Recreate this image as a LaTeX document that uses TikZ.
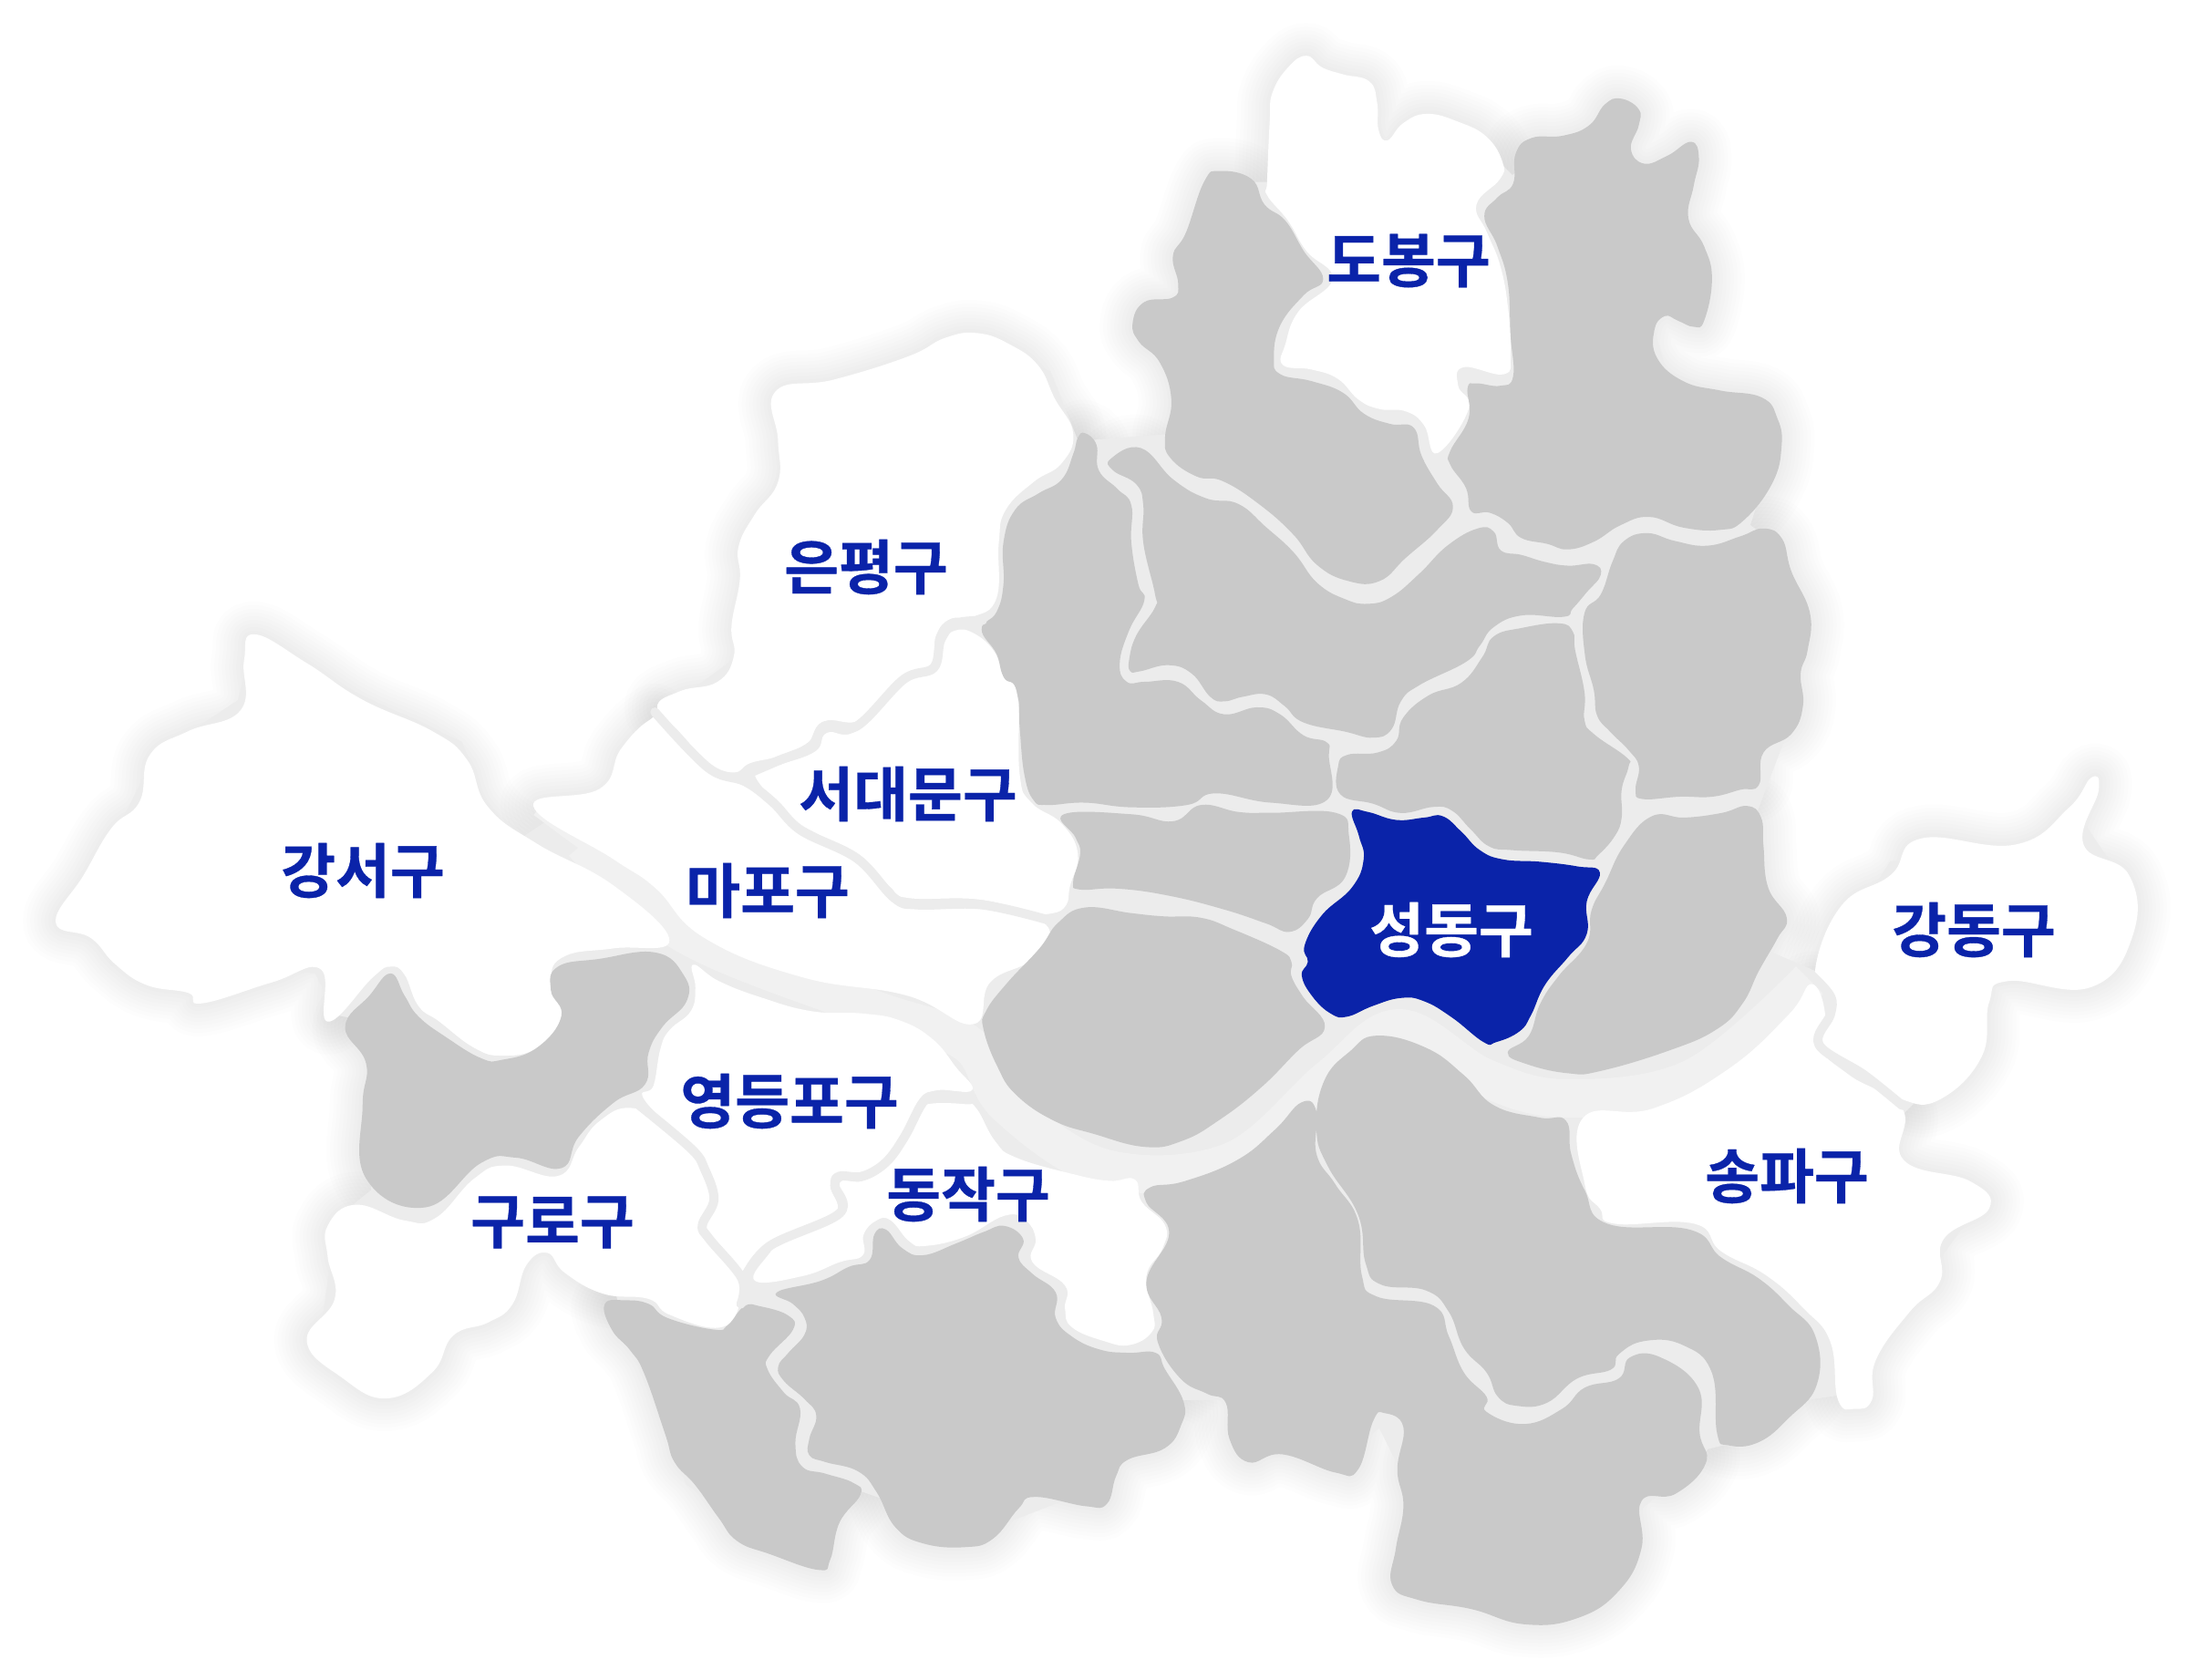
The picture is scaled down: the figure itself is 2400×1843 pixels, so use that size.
\documentclass[tikz,border=0pt]{standalone}
\usepackage{fontspec}
\newfontfamily\krfont[BoldFont={Noto Sans CJK KR Bold},BoldFeatures={FakeBold=0.5}]{Noto Sans CJK KR}
\pgfdeclarelayer{shadowlayer}
\pgfdeclarelayer{riverlayer}
\pgfsetlayers{shadowlayer,riverlayer,main}
\definecolor{landgray}{HTML}{C9C9C9}
\definecolor{gapgray}{HTML}{ECECEC}
\definecolor{rivergray}{HTML}{F1F1F1}
\definecolor{gublue}{HTML}{0A23A9}
\tikzset{
    cropNorth/.style={shift={(1100,0)},x=0.00574cm,y=-0.0051cm},
    cropWest/.style={shift={(0,650)},x=0.00765cm,y=-0.00574cm},
    cropEast/.style={shift={(1100,800)},x=0.00829cm,y=-0.00665cm},
    cropMid/.style={shift={(680,340)},x=0.0051cm,y=-0.0051cm},
    cropSouth/.style={shift={(620,1043)},x=0.0051cm,y=-0.0051cm},
    cropCenter/.style={shift={(1200,540)},x=0.0051cm,y=-0.0051cm},
    cropWhole/.style={x=0.01535cm,y=-0.01535cm},
    guname/.style={font=\krfont\bfseries\fontsize{18.5}{19}\selectfont,text=gublue,inner sep=0pt},
    outline/.style={smooth cycle,tension=0.75},
    gapline/.style={gapgray,line width=0.1cm,line cap=round,line join=round}
}
% #1 crop, #2 fill colour, #3 outline points
\newcommand{\district}[3]{%
    \begin{pgfonlayer}{shadowlayer}
        \begin{scope}[#1]
            \foreach \w in {0.08,0.16,0.24,0.32,0.4,0.48,0.56,0.64,0.72}
                \draw[black,draw opacity=0.009,line width=\w cm,line join=round] plot[outline] coordinates {#3};
        \end{scope}
    \end{pgfonlayer}
    \begin{scope}[#1]
        \fill[#2] plot[outline] coordinates {#3};
    \end{scope}
}
\begin{document}
\begin{tikzpicture}[x=0.01cm,y=-0.01cm]
    \useasboundingbox (0,0) rectangle (2400,1843);
    \begin{pgfonlayer}{shadowlayer}
        \fill[white] (0,0) rectangle (2400,1843);
    \end{pgfonlayer}

    %% land under the districts, shows in the gaps, then the river
    \begin{pgfonlayer}{riverlayer}
        \begin{scope}[cropWhole]
            \fill[gapgray] (938,55) -- (975,65) -- (990,105) -- (1000,100) -- (1070,115) -- (1080,125) -- (1110,105) -- (1160,90) -- (1165,115) -- (1195,125) -- (1205,210) -- (1180,230) -- (1190,265) -- (1260,290) -- (1270,315) -- (1250,375) -- (1270,390) -- (1285,425) -- (1285,500) -- (1255,580) -- (1265,680) -- (1300,695) -- (1350,615) -- (1450,615) -- (1490,590) -- (1520,635) -- (1505,695) -- (1420,705) -- (1410,750) -- (1380,775) -- (1355,800) -- (1360,850) -- (1410,865) -- (1385,900) -- (1340,960) -- (1325,995) -- (1290,1000) -- (1240,1030) -- (1220,1035) -- (1170,1080) -- (1160,1120) -- (1090,1150) -- (1005,1125) -- (1005,1060) -- (985,1020) -- (960,1040) -- (890,1040) -- (880,1000) -- (835,1000) -- (790,1060) -- (700,1095) -- (600,1060) -- (590,1110) -- (530,1090) -- (490,1060) -- (450,960) -- (440,925) -- (390,885) -- (330,930) -- (300,960) -- (280,995) -- (228,960) -- (240,870) -- (265,850) -- (265,730) -- (240,725) -- (225,695) -- (80,690) -- (60,640) -- (110,540) -- (170,500) -- (180,460) -- (330,530) -- (345,570) -- (370,600) -- (400,580) -- (440,560) -- (470,510) -- (525,470) -- (530,400) -- (555,340) -- (565,285) -- (690,245) -- (750,265) -- (770,315) -- (835,310) -- (835,270) -- (820,230) -- (845,210) -- (848,180) -- (880,130) -- (925,130) -- (925,80) -- cycle;
        \end{scope}
        \draw[rivergray,line width=0.42cm,line join=round] plot[smooth,tension=0.6] coordinates {(640,925) (752,1025) (952,1105) (1060,1144) (1105,1213) (1213,1282) (1351,1274) (1459,1182) (1535,1128) (1628,1182) (1720,1205) (1858,1182) (1985,1075)};
        \draw[rivergray,line width=0.15cm] plot[smooth,tension=0.6] coordinates {(590,888) (640,925) (700,965)};
    \end{pgfonlayer}

    %% north
    \district{cropNorth}{white}{(580,120) (610,145) (650,160) (700,175) (715,220) (718,280) (735,302) (765,265) (810,245) (870,262) (925,295) (955,350) (950,385) (905,440) (925,500) (950,570) (965,660) (970,760) (958,805) (880,790) (870,830) (890,880) (830,975) (805,915) (770,885) (720,880) (680,860) (640,815) (590,795) (535,785) (540,740) (565,670) (630,600) (580,540) (545,475) (505,420) (505,390) (510,260) (515,200) (545,145)}
    \district{cropNorth}{landgray}{(415,368) (475,385) (500,440) (540,475) (575,540) (612,600) (575,635) (530,700) (518,770) (530,805) (590,820) (650,845) (690,890) (740,912) (785,920) (800,980) (830,1040) (860,1090) (830,1140) (770,1200) (720,1250) (660,1250) (600,1215) (555,1150) (490,1085) (420,1035) (370,1025) (320,985) (310,940) (322,860) (300,780) (260,735) (248,695) (270,650) (325,640) (335,610) (325,550) (350,500) (385,390)}
    \district{cropNorth}{landgray}{(1180,212) (1215,235) (1215,270) (1200,320) (1225,352) (1270,335) (1315,305) (1330,340) (1320,400) (1310,470) (1340,530) (1355,600) (1340,690) (1320,703) (1290,690) (1265,680) (1245,710) (1250,770) (1300,820) (1370,840) (1450,855) (1480,900) (1488,960) (1470,1040) (1415,1120) (1370,1140) (1300,1135) (1235,1112) (1180,1130) (1130,1165) (1080,1182) (1040,1170) (990,1157) (965,1125) (930,1103) (895,1100) (885,1050) (855,1000) (855,970) (890,900) (888,835) (905,825) (950,830) (975,810) (970,720) (965,610) (945,530) (920,465) (945,425) (975,395) (980,330) (1010,297) (1070,292) (1120,270) (1150,225)}

    %% center
    \district{cropCenter}{landgray}{(36,-72) (101,-95) (171,-27) (241,13) (310,25) (370,75) (430,130) (480,195) (540,230) (590,240) (640,225) (700,175) (760,115) (825,78) (860,85) (875,125) (920,135) (970,150) (1020,158) (1075,155) (1090,178) (1060,215) (1030,250) (1010,268) (920,265) (860,290) (830,330) (800,365) (700,415) (660,450) (640,510) (600,528) (540,515) (450,495) (410,460) (370,435) (320,440) (280,450) (250,440) (210,390) (160,372) (100,385) (78,385) (76,358) (91,308) (131,248) (131,218) (106,108) (106,28) (91,-17) (41,-47)}
    \district{cropCenter}{landgray}{(1190,88) (1250,105) (1320,115) (1390,95) (1440,78) (1480,100) (1500,170) (1540,260) (1535,340) (1520,390) (1525,460) (1500,520) (1440,560) (1430,630) (1390,640) (1330,655) (1260,655) (1180,660) (1165,640) (1172,590) (1150,555) (1110,515) (1082,480) (1075,425) (1056,350) (1055,260) (1090,220) (1115,150) (1140,105)}
    \district{cropCenter}{landgray}{(1000,282) (1030,300) (1035,340) (1055,430) (1055,490) (1075,520) (1145,570) (1150,590) (1135,640) (1135,700) (1120,740) (1085,780) (1065,790) (1000,775) (900,770) (850,762) (810,725) (770,685) (730,677) (660,690) (600,670) (530,650) (525,590) (545,565) (610,560) (650,535) (665,485) (720,437) (790,410) (835,355) (860,310) (920,292)}
    \district{cropCenter}{gublue}{(555,687) (590,688) (650,705) (710,700) (750,697) (790,730) (830,770) (880,790) (960,795) (1040,805) (1088,818) (1060,880) (1060,950) (1020,1000) (970,1060) (940,1125) (915,1160) (865,1183) (838,1183) (770,1130) (710,1095) (660,1088) (600,1105) (545,1128) (510,1122) (470,1085) (447,1040) (460,1010) (453,975) (490,910) (555,850) (580,790) (570,740)}
    \district{cropCenter}{landgray}{(1200,697) (1270,700) (1350,690) (1405,675) (1435,700) (1440,760) (1450,850) (1490,915) (1470,960) (1430,1030) (1395,1100) (1340,1155) (1240,1200) (1090,1245) (1020,1250) (930,1230) (890,1205) (935,1170) (960,1100) (1000,1040) (1060,970) (1070,900) (1100,840) (1140,760)}

    %% middle west of the center
    \district{cropMid}{landgray}{(1000,265) (1025,290) (1030,345) (1070,385) (1100,420) (1100,500) (1115,590) (1128,625) (1095,690) (1075,760) (1090,800) (1130,800) (1200,800) (1250,840) (1300,870) (1370,855) (1420,870) (1470,915) (1520,930) (1525,960) (1520,1055) (1400,1060) (1280,1040) (1220,1065) (1100,1070) (1000,1060) (920,1065) (890,1055) (870,1000) (860,900) (855,830) (825,790) (810,740) (778,687) (810,650) (825,590) (825,500) (850,430) (900,395) (950,365) (975,310) (985,275)}
    \district{cropMid}{landgray}{(955,1085) (1100,1085) (1190,1100) (1250,1065) (1330,1080) (1400,1082) (1540,1082) (1568,1130) (1560,1220) (1500,1265) (1480,1310) (1440,1338) (1390,1320) (1300,1290) (1180,1260) (1070,1245) (990,1247) (975,1230) (990,1170) (980,1135)}
    \district{cropMid}{white}{(335,175) (460,150) (620,100) (700,60) (770,50) (840,75) (900,120) (935,190) (975,265) (950,330) (890,370) (830,430) (815,500) (810,620) (760,660) (710,665) (680,700) (670,760) (620,785) (560,840) (510,885) (440,885) (405,930) (340,960) (280,975) (245,995) (190,975) (130,910) (80,855) (130,820) (210,800) (245,745) (240,680) (258,580) (255,510) (290,440) (340,370) (340,280)}
    \district{cropMid}{white}{(720,690) (760,695) (805,735) (825,790) (855,830) (860,1000) (885,1060) (950,1105) (985,1170) (968,1240) (960,1280) (930,1298) (880,1295) (770,1268) (620,1265) (580,1240) (510,1170) (430,1130) (370,1090) (290,1000) (340,980) (420,950) (445,910) (510,905) (610,805) (680,770) (695,715)}

    %% west
    \district{cropWest}{white}{(930,245) (950,250) (1010,330) (1060,360) (1120,410) (1170,465) (1250,530) (1300,590) (1400,590) (1500,635) (1480,700) (1420,745) (1395,825) (1300,770) (1150,735) (1010,660) (940,565) (880,510) (765,408) (860,375) (890,300)}
    \district{cropWest}{white}{(365,80) (440,135) (520,205) (620,265) (670,320) (700,410) (770,480) (880,560) (960,665) (880,680) (810,695) (790,740) (805,810) (770,870) (720,885) (680,870) (630,820) (600,790) (580,730) (560,715) (535,735) (470,820) (460,720) (390,745) (290,785) (270,765) (210,750) (165,710) (130,660) (80,630) (120,540) (160,450) (200,400) (215,310) (270,265) (345,225) (350,130)}
    \district{cropWest}{landgray}{(560,728) (580,770) (600,810) (640,850) (690,890) (720,893) (770,870) (805,810) (790,760) (800,715) (860,700) (940,688) (980,730) (985,780) (950,830) (930,880) (925,940) (880,975) (830,1040) (805,1100) (740,1080) (690,1090) (610,1175) (525,1120) (520,980) (525,900) (495,830) (530,770)}
    \district{cropWest}{white}{(905,985) (960,1020) (1000,1080) (1020,1160) (1010,1220) (1060,1310) (1060,1365) (1030,1405) (960,1380) (930,1350) (865,1340) (810,1300) (785,1262) (755,1285) (735,1360) (700,1395) (650,1420) (620,1490) (555,1540) (490,1500) (440,1430) (480,1350) (470,1270) (470,1210) (510,1170) (580,1200) (625,1195) (680,1120) (725,1095) (800,1115) (830,1060) (860,1010)}

    %% south of the river
    \district{cropSouth}{landgray}{(1118,-93) (1217,-81) (1287,-74) (1367,-71) (1437,-46) (1537,-1) (1562,24) (1562,54) (1587,99) (1634,164) (1577,214) (1497,294) (1407,364) (1327,409) (1247,422) (1137,394) (1050,365) (970,310) (930,250) (900,170) (905,130) (950,70) (1020,-5) (1060,-60)}
    \district{cropSouth}{white}{(275,30) (330,65) (420,100) (530,130) (640,135) (720,150) (790,190) (840,250) (875,300) (800,300) (770,320) (730,385) (700,440) (640,475) (590,478) (570,505) (585,560) (530,590) (450,620) (410,660) (380,705) (310,620) (290,590) (310,535) (300,470) (270,420) (170,320) (190,290) (205,210) (225,170) (270,130) (280,80)}
    \district{cropSouth}{white}{(780,330) (860,330) (885,340) (925,410) (970,445) (1090,480) (1170,495) (1225,492) (1240,540) (1290,590) (1285,640) (1250,700) (1265,780) (1262,820) (1215,848) (1160,840) (1090,810) (1075,770) (1075,720) (1005,670) (1012,620) (990,580) (945,570) (860,615) (775,635) (740,625) (700,580) (670,580) (642,610) (640,655) (590,670) (510,700) (408,710) (440,650) (480,610) (590,570) (590,500) (640,495) (690,465) (730,410) (760,350)}
    \district{cropSouth}{landgray}{(455,735) (550,710) (610,680) (655,665) (665,610) (690,600) (725,640) (770,655) (840,630) (900,605) (945,592) (985,620) (975,660) (1005,695) (1055,735) (1055,790) (1090,830) (1150,858) (1210,865) (1270,865) (1290,900) (1330,970) (1325,1020) (1290,1070) (1210,1095) (1185,1130) (1165,1190) (1120,1195) (1010,1175) (975,1200) (920,1265) (860,1283) (770,1275) (710,1240) (670,1165) (630,1120) (560,1100) (525,1085) (525,1050) (540,1000) (515,965) (470,925) (458,895) (480,865) (515,825) (515,790) (490,760)}
    \district{cropSouth}{landgray}{(85,760) (130,752) (180,760) (220,790) (320,815) (350,805) (385,765) (420,765) (480,785) (490,815) (440,870) (435,900) (470,950) (505,985) (495,1060) (510,1110) (560,1125) (620,1145) (635,1170) (590,1230) (570,1310) (545,1332) (440,1298) (370,1270) (330,1220) (280,1150) (235,1100) (215,1040) (170,910) (140,860) (100,815)}

    %% south east
    \district{cropEast}{landgray}{(495,505) (560,525) (610,570) (650,620) (710,640) (745,645) (752,700) (770,760) (800,815) (910,825) (950,870) (1000,905) (1040,950) (1075,1000) (1077,1080) (1040,1135) (1000,1175) (960,1180) (945,1160) (938,1060) (900,1015) (850,1008) (815,1030) (805,1055) (760,1070) (720,1110) (680,1115) (655,1100) (640,1060) (610,1020) (590,960) (560,925) (500,915) (480,880) (470,800) (430,720) (415,660) (425,580) (460,530)}
    \district{cropEast}{landgray}{(195,755) (240,745) (310,710) (360,660) (395,615) (415,630) (415,700) (440,750) (470,810) (475,900) (495,935) (570,950) (590,1000) (610,1060) (640,1100) (640,1125) (690,1145) (740,1120) (770,1085) (815,1070) (830,1035) (870,1035) (920,1085) (922,1160) (930,1210) (890,1260) (845,1272) (845,1350) (815,1420) (760,1465) (690,1475) (620,1450) (550,1435) (515,1410) (520,1350) (530,1280) (522,1220) (530,1150) (505,1127) (490,1140) (470,1220) (440,1225) (370,1195) (325,1208) (300,1170) (295,1110) (270,1095) (235,1070) (205,1010) (210,970) (190,910) (220,830) (190,780)}
    \district{cropEast}{white}{(1440,80) (1450,100) (1430,190) (1490,240) (1495,340) (1440,425) (1330,415) (1305,450) (1295,540) (1240,610) (1190,610) (1145,570) (1085,520) (1100,470) (1095,430) (1075,395) (1110,290) (1175,240) (1215,180) (1340,190) (1410,130)}
    \district{cropEast}{white}{(1070,420) (1088,470) (1078,520) (1120,570) (1190,625) (1192,710) (1280,745) (1305,790) (1245,840) (1240,910) (1200,960) (1155,1040) (1150,1105) (1128,1120) (1105,1105) (1095,1010) (1060,955) (1010,900) (950,860) (915,815) (810,815) (790,790) (770,750) (768,640) (860,625) (960,560) (1040,470)}

    %% borders where two white districts meet
    \draw[gapline,cropMid] plot[smooth,tension=0.6] coordinates {(75,865) (190,985) (270,1015) (330,1060) (390,1120) (510,1180) (590,1265) (640,1280) (780,1280) (920,1312)};
    \draw[gapline,cropMid] plot[smooth,tension=0.6] coordinates {(270,1000) (340,970) (410,940) (440,895) (510,895) (610,795) (675,770) (690,710) (720,675) (780,668)};
    \draw[gapline,cropSouth] plot[smooth,tension=0.6] coordinates {(150,325) (270,425) (300,470) (320,535) (295,590) (310,620) (380,705) (378,760)};
    \draw[gapline,cropSouth] plot[smooth,tension=0.6] coordinates {(385,705) (440,635) (590,565) (580,505) (590,485) (640,485) (690,455) (730,400) (770,325) (800,312) (875,315)};
    \draw[gapline,cropEast] plot[smooth,tension=0.6] coordinates {(1070,405) (1095,440) (1095,470) (1080,520) (1140,570) (1190,620)};

    %% district names
    \foreach \n/\x/\y/\t in {
        dobong/1545/286/도봉구,
        eunpyeong/950/622/은평구,
        gangseo/398/955/강서구,
        seodaemun/996/871/서대문구,
        mapo/842/977/마포구,
        yeongdeungpo/866/1208/영등포구,
        guro/606/1341/구로구,
        dongjak/1062/1310/동작구,
        gangdong/2165/1020/강동구,
        songpa/1960/1290/송파구
    }
    {
        \node[guname] (\n) at (\x,\y) {\t};
    };
    \node[guname,text=white] (seongdong) at (1592,1020) {성동구};
\end{tikzpicture}
\end{document}
